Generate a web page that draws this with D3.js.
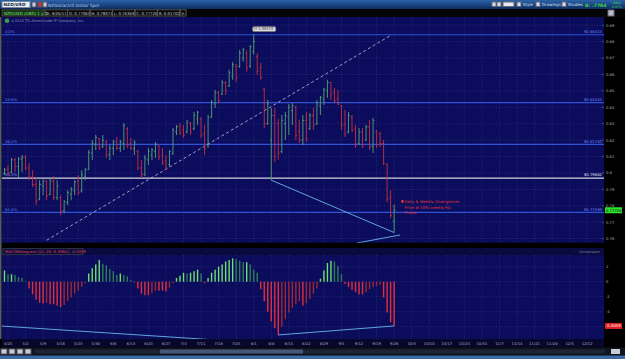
<!DOCTYPE html>
<html>
<head>
<meta charset="utf-8">
<script src="https://cdn.jsdelivr.net/npm/d3@7"></script>
<style>
  body { margin: 0; background: #000; }
  svg { display: block; font-family: "DejaVu Sans", "Liberation Sans", sans-serif; }
</style>
</head>
<body>
<svg id="chart" width="625" height="359"></svg>
<script>
// daily NZD/USD bars, first bar is 4/22/11 (index -1), last is 9/26/11 (index 110)
const firstIndex = -1;
const opens  = [.7995,.8020,.8005,.8080,.8040,.8085,.8095,.8030,.7975,.7930,.7840,.7920,.7950,.7870,.7950,.7850,.7850,.7770,.7820,.7870,.7890,.7950,.7890,.7980,.8020,.8120,.8175,.8210,.8160,.8190,.8110,.8150,.8190,.8150,.8180,.8270,.8180,.8150,.8130,.8030,.7990,.8080,.8110,.8130,.8165,.8110,.8070,.8050,.8120,.8250,.8285,.8260,.8250,.8300,.8270,.8330,.8330,.8240,.8170,.8340,.8420,.8490,.8480,.8550,.8530,.8590,.8650,.8650,.8700,.8730,.8650,.8740,.8710,.8640,.8510,.8300,.8200,.8350,.8300,.8130,.8300,.8340,.8380,.8400,.8250,.8200,.8320,.8270,.8350,.8300,.8410,.8450,.8500,.8550,.8490,.8450,.8410,.8300,.8250,.8340,.8270,.8180,.8250,.8200,.8280,.8160,.8250,.8240,.8180,.8050,.7850,.77065];
const highs  = [.8030,.8048,.8091,.8091,.8097,.8109,.8109,.8060,.8017,.7969,.7956,.7969,.7956,.7969,.7981,.7956,.7864,.7834,.7895,.7914,.7956,.7987,.8017,.8030,.8140,.8201,.8231,.8213,.8231,.8200,.8170,.8201,.8219,.8201,.8304,.8280,.8213,.8201,.8140,.8079,.8109,.8152,.8152,.8188,.8170,.8152,.8109,.8140,.8274,.8292,.8304,.8292,.8323,.8310,.8372,.8378,.8340,.8292,.8353,.8445,.8506,.8500,.8567,.8560,.8628,.8677,.8665,.8750,.8762,.8745,.8780,.88415,.8730,.8671,.8518,.8445,.8396,.8396,.8330,.8353,.8372,.8420,.8426,.8410,.8323,.8353,.8372,.8365,.8396,.8445,.8469,.8518,.8567,.8555,.8518,.8506,.8414,.8384,.8372,.8353,.8292,.8274,.8274,.8292,.8323,.8335,.8262,.8249,.8201,.8060,.7895,.78071];
const lows   = [.7987,.7987,.7999,.8005,.7969,.8005,.8017,.7956,.7914,.7804,.7834,.7864,.7834,.7864,.7834,.7834,.7743,.7755,.7804,.7834,.7864,.7864,.7880,.7956,.8017,.8079,.8140,.8140,.8152,.8091,.8079,.8109,.8140,.8127,.8140,.8152,.8140,.8109,.8017,.7969,.7980,.8048,.8079,.8091,.8079,.8048,.8017,.8040,.8109,.8231,.8231,.8213,.8240,.8231,.8260,.8292,.8213,.8109,.8152,.8335,.8396,.8426,.8475,.8475,.8524,.8567,.8555,.8640,.8677,.8616,.8640,.8720,.8597,.8567,.8274,.8292,.7956,.8066,.8080,.8120,.8201,.8231,.8292,.8201,.8182,.8170,.8188,.8262,.8262,.8292,.8353,.8414,.8457,.8445,.8426,.8414,.8262,.8219,.8240,.8249,.8152,.8170,.8152,.8195,.8140,.8121,.8152,.8158,.8048,.7822,.7724,.76369];
const closes = [.8020,.8000,.8080,.8040,.8085,.8095,.8030,.7975,.7930,.7830,.7930,.7950,.7860,.7950,.7850,.7920,.7765,.7825,.7880,.7900,.7945,.7880,.7990,.8020,.8125,.8180,.8215,.8150,.8200,.8110,.8150,.8190,.8150,.8190,.8290,.8170,.8150,.8185,.8030,.7990,.8090,.8130,.8140,.8175,.8100,.8060,.8030,.8130,.8260,.8280,.8245,.8230,.8310,.8250,.8350,.8370,.8230,.8150,.8340,.8430,.8490,.8440,.8550,.8500,.8610,.8660,.8580,.8730,.8750,.8640,.8770,.8800,.8620,.8580,.8300,.8420,.8350,.8100,.8120,.8320,.8350,.8400,.8410,.8230,.8200,.8320,.8210,.8350,.8290,.8420,.8460,.8510,.8550,.8480,.8440,.8420,.8290,.8240,.8350,.8260,.8170,.8250,.8170,.8280,.8160,.8320,.8170,.8180,.8060,.7840,.7740,.77726];

// MACD histogram (12, 26, 9), in thousandths
const macdHist = [1.5,1.0,1.0,0.9,0.6,0.5,0.1,-0.9,-1.7,-2.4,-2.8,-2.9,-2.8,-3.0,-3.0,-3.2,-3.4,-3.1,-2.6,-2.1,-1.6,-1.2,-0.7,-0.2,1.1,1.8,2.3,2.9,2.4,2.2,1.7,1.4,0.9,1.1,0.9,0.7,0.2,-0.1,-0.9,-1.6,-1.8,-1.8,-1.5,-1.2,-1.2,-1.2,-1.3,-0.8,-0.2,0.5,0.8,1.2,1.1,1.2,1.4,1.6,1.1,-0.2,0.5,1.2,1.6,2.0,2.3,2.7,2.9,3.1,3.0,2.8,2.6,2.6,2.3,1.6,1.2,-1.0,-2.6,-4.0,-5.3,-6.2,-7.1,-6.0,-5.0,-4.1,-3.5,-3.0,-2.6,-3.2,-2.9,-2.3,-1.6,-0.9,0.4,1.5,2.5,2.8,2.7,2.1,1.0,-0.3,-0.7,-1.1,-1.4,-1.7,-1.7,-1.4,-1.0,-0.7,-0.6,-0.4,-2.1,-4.1,-5.4,-5.9];

const weekLabels = ["4/25","5/2","5/9","5/16","5/23","5/30","6/6","6/13","6/20","6/27","7/4","7/11","7/18","7/25","8/1","8/8","8/15","8/22","8/29","9/5","9/12","9/19","9/26","10/3","10/10","10/17","10/24","10/31","11/7","11/14","11/21","11/28","12/5","12/12"];
const priceTicks = [0.76,0.77,0.78,0.79,0.80,0.81,0.82,0.83,0.84,0.85,0.86,0.87,0.88,0.89];
const macdTicks = [2,0,-2,-4,-6];

const fibLabels = ["0.0%","23.6%","38.2%","50.0%","61.8%"];
const fibPrices = [0.88415,0.84283,0.81740,0.79682,0.77599];

// drawings: [bar index, value]
const trendLine = [[11,0.7590],[109.3,0.88415]];
const priceDivLines = [[[75,0.7956],[110,0.76369]],[[99.4,0.7573],[111.7,0.7622]]];
const macdDivLines = [[[-2.3,-5.9],[57,-7.7]],[[77,-7.1],[110,-5.9]]];
const noteLines = ["Daily & Weekly Divergences","Price at 50% weekly Fib","Pinbar"];

const headerCells = ["D: 9/26/11","O: 0.77065","H: 0.78071","L: 0.76369","C: 0.77726","R: 0.01702","V:"];

const W = 625, H = 359;
const plotL = 2, plotR = 604;
const priceTop = 17, priceBot = 242.7;
const macdTop = 255, macdBot = 339;

const svg = d3.select("#chart");

const bars = opens.map((o, k) => ({i: k + firstIndex, o, h: highs[k], l: lows[k], c: closes[k]}));
const hist = macdHist.map((v, k) => ({i: k + firstIndex, v, prev: k ? macdHist[k - 1] : v}));

const x = d3.scaleLinear().domain([0, 165]).range([8, 587.2]);
const y = d3.scaleLinear().domain([0.7575, 0.895]).range([priceBot, priceTop]);
const ym = d3.scaleLinear().domain([-7.64, 3.56]).range([macdBot, macdTop]);

svg.append("rect").attr("width", W).attr("height", H).attr("fill", "#000");

// clip paths
const defs = svg.append("defs");
defs.append("clipPath").attr("id", "clipP").append("rect")
  .attr("x", plotL).attr("y", priceTop).attr("width", plotR - plotL).attr("height", priceBot - priceTop);
defs.append("clipPath").attr("id", "clipM").append("rect")
  .attr("x", plotL).attr("y", macdTop).attr("width", plotR - plotL).attr("height", macdBot - macdTop);
const grad = defs.append("linearGradient").attr("id", "topGrad").attr("x1", 0).attr("x2", 0).attr("y1", 0).attr("y2", 1);
grad.append("stop").attr("offset", "0%").attr("stop-color", "#2c63a8");
grad.append("stop").attr("offset", "100%").attr("stop-color", "#0b2c62");

// top toolbar
svg.append("rect").attr("width", W).attr("height", 9).attr("fill", "url(#topGrad)");
svg.append("rect").attr("x", 2).attr("y", 1.5).attr("width", 28).attr("height", 6).attr("fill", "#e8eef8").attr("stroke", "#789");
svg.append("text").attr("x", 3.5).attr("y", 6.3).attr("font-size", 4.3).attr("font-weight", "bold").attr("fill", "#123").text("NZD/USD");
[32, 38, 43].forEach((px, n) => svg.append("rect").attr("x", px).attr("y", 2).attr("width", 4).attr("height", 5)
  .attr("fill", n === 1 ? "#c33" : "#ccd").attr("stroke", "#556"));
svg.append("text").attr("x", 48).attr("y", 6.5).attr("font-size", 4.3).attr("fill", "#b8c8e0").text("NZDollar/US Dollar Spot");
[[492, ""], [497, ""], [517, "Style"], [536, "Drawings"], [562, "Studies"]].forEach(([px, t]) => {
  svg.append("rect").attr("x", px).attr("y", 2).attr("width", 4).attr("height", 4.5)
    .attr("fill", "#d8dde6").attr("stroke", "#667");
  if (t) svg.append("text").attr("x", px + 6).attr("y", 6).attr("font-size", 4).attr("fill", "#d8e0ee").text(t);
});
svg.append("rect").attr("x", 503).attr("y", 2).attr("width", 11).attr("height", 4.5).attr("fill", "#e6e9ef").attr("stroke", "#667");
svg.append("text").attr("x", 585).attr("y", 6.5).attr("font-size", 4.6).attr("font-weight", "bold").attr("fill", "#3ed33e").text("B: .7764");
svg.append("text").attr("x", 611).attr("y", 3.8).attr("font-size", 3).attr("fill", "#3ed33e").text("-.0068");
svg.append("text").attr("x", 611).attr("y", 7.6).attr("font-size", 3).attr("fill", "#3ed33e").text("-0.87%");

// info row
svg.append("rect").attr("y", 9).attr("width", W).attr("height", 8).attr("fill", "#050505");
svg.append("rect").attr("x", 2).attr("y", 9.8).attr("width", 42).attr("height", 6.2).attr("fill", "#143414").attr("stroke", "#444");
svg.append("text").attr("x", 4).attr("y", 14.5).attr("font-size", 4).attr("fill", "#7ee27e").text("NZD/USD (GBD) 1 y D");
let cx = 45;
headerCells.forEach(t => {
  const wdt = t.length * 2.05 + 2;
  svg.append("rect").attr("x", cx).attr("y", 9.8).attr("width", wdt).attr("height", 6.2).attr("fill", "none").attr("stroke", "#555");
  svg.append("text").attr("x", cx + 1.2).attr("y", 14.5).attr("font-size", 3.9).attr("fill", "#d0d0d0").text(t);
  cx += wdt;
});
svg.append("rect").attr("x", 608).attr("y", 10).attr("width", 6).attr("height", 6).attr("fill", "#bbc").attr("stroke", "#667");

// panel backgrounds
svg.append("rect").attr("x", plotL).attr("y", priceTop).attr("width", plotR - plotL).attr("height", priceBot - priceTop).attr("fill", "#0c0c5c");
svg.append("rect").attr("x", plotL).attr("y", macdTop).attr("width", plotR - plotL).attr("height", macdBot - macdTop).attr("fill", "#0c0c5c");
svg.append("rect").attr("x", 0).attr("y", priceTop).attr("width", 1.5).attr("height", macdBot - priceTop).attr("fill", "#555a66");

// grid
const gridP = svg.append("g").attr("clip-path", "url(#clipP)");
const gridM = svg.append("g").attr("clip-path", "url(#clipM)");
const weekIdx = weekLabels.map((d, n) => n * 5);
[[gridP, priceTop, priceBot], [gridM, macdTop, macdBot]].forEach(([g, t, b]) => {
  g.selectAll(".vg").data(weekIdx).join("line")
    .attr("x1", d => x(d)).attr("x2", d => x(d)).attr("y1", t).attr("y2", b)
    .attr("stroke", "#3a3a90").attr("stroke-width", 0.6).attr("stroke-dasharray", "1,1.6");
});
gridP.selectAll(".hg").data(priceTicks).join("line")
  .attr("x1", plotL).attr("x2", plotR).attr("y1", d => y(d)).attr("y2", d => y(d))
  .attr("stroke", "#3a3a90").attr("stroke-width", 0.6).attr("stroke-dasharray", "1,1.6");
gridM.selectAll(".hg").data(macdTicks).join("line")
  .attr("x1", plotL).attr("x2", plotR).attr("y1", d => ym(d)).attr("y2", d => ym(d))
  .attr("stroke", "#3a3a90").attr("stroke-width", 0.6).attr("stroke-dasharray", "1,1.6");

// copyright
svg.append("circle").attr("cx", 7).attr("cy", 20.7).attr("r", 2.3).attr("fill", "#3ca04a");
svg.append("text").attr("x", 11).attr("y", 22).attr("font-size", 3.7).attr("fill", "#8a8ab8").text("\u00a92010 TD Ameritrade IP Company, Inc.");

// fibonacci levels
const fib = svg.append("g");
fibPrices.forEach((p, n) => {
  const mid = n === 3;
  fib.append("line").attr("x1", plotL).attr("x2", plotR).attr("y1", y(p)).attr("y2", y(p))
    .attr("stroke", mid ? "#d4d4e2" : "#2f52d6").attr("stroke-width", mid ? 1.3 : 1.1);
  fib.append("text").attr("x", 5).attr("y", y(p) - 1.8).attr("font-size", 3.8)
    .attr("fill", mid ? "#8a9ae0" : "#5a7ae6").text(fibLabels[n]);
  fib.append("text").attr("x", 602).attr("y", y(p) - 1.8).attr("font-size", 3.8).attr("text-anchor", "end")
    .attr("fill", mid ? "#e0e0ee" : "#6a8af0").text("$" + p.toFixed(5));
});

// dashed trend line
const lineP = d3.line().x(d => x(d[0])).y(d => y(d[1]));
svg.append("path").attr("clip-path", "url(#clipP)").attr("d", lineP(trendLine))
  .attr("fill", "none").attr("stroke", "#cbbcd6").attr("stroke-width", 0.8).attr("stroke-dasharray", "3,2.5");

// OHLC bars
const up = "#55a374", dn = "#c8303e";
const bg = svg.append("g").attr("clip-path", "url(#clipP)");
const bar = bg.selectAll("g.bar").data(bars).join("g").attr("stroke", d => d.c >= d.o ? up : dn).attr("stroke-width", 0.9);
bar.append("line").attr("x1", d => x(d.i)).attr("x2", d => x(d.i)).attr("y1", d => y(d.h)).attr("y2", d => y(d.l));
bar.append("line").attr("x1", d => x(d.i) - 1.3).attr("x2", d => x(d.i)).attr("y1", d => y(d.o)).attr("y2", d => y(d.o));
bar.append("line").attr("x1", d => x(d.i)).attr("x2", d => x(d.i) + 1.3).attr("y1", d => y(d.c)).attr("y2", d => y(d.c));

// divergence lines on price
priceDivLines.forEach(l => svg.append("path").attr("clip-path", "url(#clipP)").attr("d", lineP(l))
  .attr("fill", "none").attr("stroke", "#6ab8e8").attr("stroke-width", 0.9));

// high bubble
const hiBar = bars.reduce((a, b) => (b.h > a.h ? b : a));
svg.append("rect").attr("x", x(hiBar.i) - 1).attr("y", y(hiBar.h) - 8).attr("width", 23).attr("height", 4.6).attr("rx", 1.2)
  .attr("fill", "#e6e6ee").attr("stroke", "#777");
svg.append("text").attr("x", x(hiBar.i) + 0.5).attr("y", y(hiBar.h) - 4.5).attr("font-size", 3.7).attr("fill", "#222")
  .text("H " + hiBar.h.toFixed(5));

// note
const last = bars[bars.length - 1];
svg.append("circle").attr("cx", 402.5).attr("cy", 201.5).attr("r", 1.4).attr("fill", "#e23a3a");
noteLines.forEach((t, n) => svg.append("text").attr("x", 404.5).attr("y", 203 + n * 5.7).attr("font-size", 3.9)
  .attr("fill", "#e03838").text(t));

// price axis
svg.append("rect").attr("x", plotR).attr("y", priceTop).attr("width", W - plotR).attr("height", priceBot - priceTop).attr("fill", "#000");
svg.selectAll(".pt").data(priceTicks.filter(d => Math.abs(y(d) - y(last.c)) > 4)).join("text")
  .attr("x", 606).attr("y", d => y(d) + 1.4)
  .attr("font-size", 3.8).attr("fill", "#a8a8a8").text(d => String(+d.toFixed(2)));
svg.selectAll(".ptk").data(priceTicks).join("line").attr("x1", plotR - 2).attr("x2", plotR).attr("y1", d => y(d)).attr("y2", d => y(d))
  .attr("stroke", "#888").attr("stroke-width", 0.5);
svg.append("rect").attr("x", 605).attr("y", y(last.c) - 3).attr("width", 17).attr("height", 6).attr("fill", "#2ee62e");
svg.append("text").attr("x", 606).attr("y", y(last.c) + 1.4).attr("font-size", 3.8).attr("fill", "#000").text(last.c.toFixed(5));

// MACD header
svg.append("rect").attr("x", plotL).attr("y", 248).attr("width", plotR - plotL).attr("height", 7).attr("fill", "#0a0a3e");
svg.append("rect").attr("x", 3).attr("y", 248.6).attr("width", 80).attr("height", 6).attr("fill", "none").attr("stroke", "#334");
const lastHist = macdHist[macdHist.length - 1];
svg.append("text").attr("x", 5).attr("y", 253.2).attr("font-size", 3.8).attr("fill", "#e04848")
  .text("MACDHistogram (12, 26, 9, EMA)");
svg.append("line").attr("x1", 69).attr("x2", 69).attr("y1", 248.6).attr("y2", 254.6).attr("stroke", "#334");
svg.append("text").attr("x", 71).attr("y", 253.2).attr("font-size", 3.8).attr("fill", "#e04848")
  .text((lastHist / 1000).toFixed(4));
svg.append("text").attr("x", 600).attr("y", 253.2).attr("font-size", 3.4).attr("text-anchor", "end").attr("fill", "#8a8aa8").text("thinkorswim");

// MACD histogram
const hg = svg.append("g").attr("clip-path", "url(#clipM)");
hg.selectAll("rect").data(hist).join("rect")
  .attr("x", d => x(d.i) - 0.7).attr("width", 1.4)
  .attr("y", d => Math.min(ym(0), ym(d.v))).attr("height", d => Math.abs(ym(d.v) - ym(0)))
  .attr("fill", d => d.v >= 0 ? (d.v >= d.prev ? "#6ee06e" : "#2f7d55") : (d.v <= d.prev ? "#e0303c" : "#9c2834"));

const lineM = d3.line().x(d => x(d[0])).y(d => ym(d[1]));
macdDivLines.forEach(l => svg.append("path").attr("clip-path", "url(#clipM)").attr("d", lineM(l))
  .attr("fill", "none").attr("stroke", "#6ab8e8").attr("stroke-width", 0.9));

// MACD axis; the tick hidden under the last-value marker is skipped, as in the platform
svg.append("rect").attr("x", plotR).attr("y", 248).attr("width", W - plotR).attr("height", macdBot - 248).attr("fill", "#000");
svg.selectAll(".mt").data(macdTicks.filter(d => Math.abs(ym(d) - ym(lastHist)) > 4)).join("text")
  .attr("x", 606).attr("y", d => ym(d) + 1.4)
  .attr("font-size", 3.8).attr("fill", "#a8a8a8").text(d => d);
svg.append("rect").attr("x", 605).attr("y", ym(lastHist) - 3).attr("width", 17).attr("height", 6).attr("fill", "#e02020");
svg.append("text").attr("x", 606).attr("y", ym(lastHist) + 1.4).attr("font-size", 3.8).attr("fill", "#fff").text((lastHist / 1000).toFixed(4));

// time axis
svg.append("rect").attr("x", plotL).attr("y", macdBot).attr("width", plotR - plotL).attr("height", 8).attr("fill", "#07072e");
svg.selectAll(".tl").data(weekLabels).join("text").attr("x", (d, n) => x(n * 5)).attr("y", 344.5)
  .attr("font-size", 3.8).attr("text-anchor", "middle").attr("fill", "#a8a8b8").text(d => d);

// scrollbar
svg.append("rect").attr("x", 0).attr("y", 347.5).attr("width", W).attr("height", 8).attr("fill", "#10141c");
[1, 9, 17, 25].forEach(px => svg.append("rect").attr("x", px).attr("y", 349).attr("width", 6).attr("height", 5)
  .attr("fill", "#c8ccd4").attr("stroke", "#556"));
svg.append("rect").attr("x", 35).attr("y", 349.5).attr("width", 570).attr("height", 4).attr("fill", "#1c2436");
svg.append("rect").attr("x", 160).attr("y", 349.5).attr("width", 143).attr("height", 4).attr("fill", "#46587a");
svg.append("rect").attr("x", 611).attr("y", 349).attr("width", 9).attr("height", 5).attr("fill", "#c8ccd4");
svg.append("rect").attr("x", 0).attr("y", 355.5).attr("width", W).attr("height", 3.5).attr("fill", "#3c6aa4");
</script>
</body>
</html>
